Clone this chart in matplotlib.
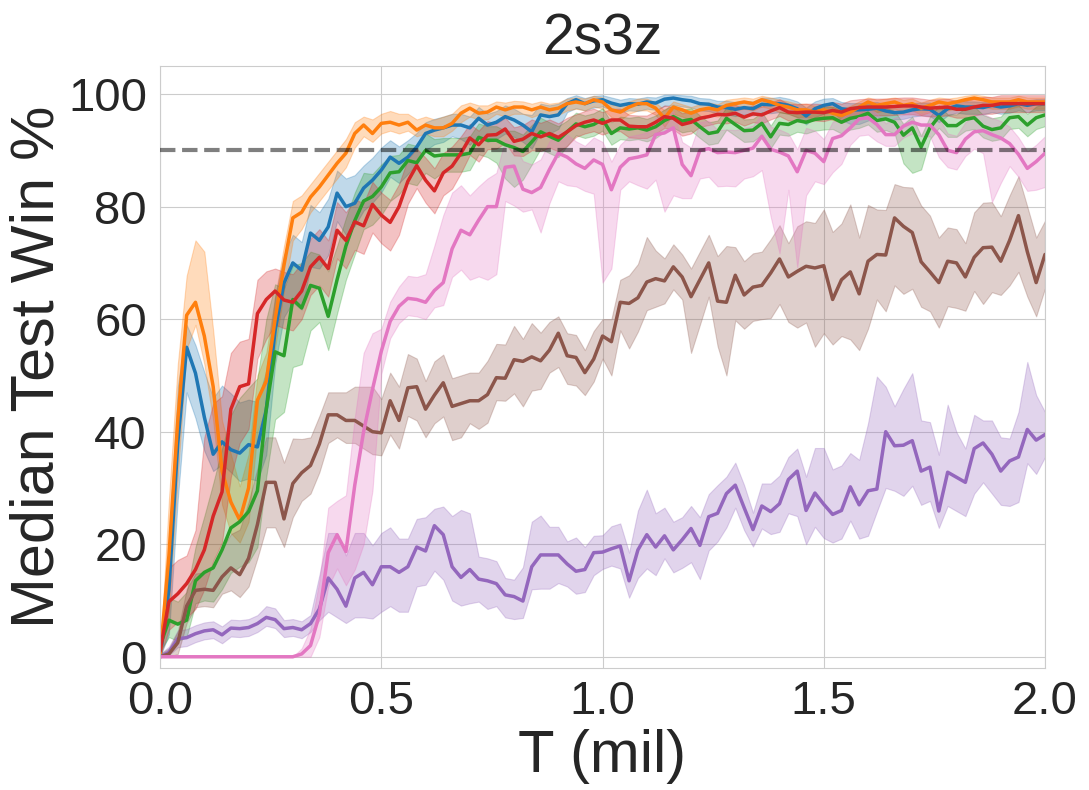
import numpy as np
import matplotlib
matplotlib.use('Agg')
import matplotlib.pyplot as plt
import seaborn as sns

# evaluation points, in million timesteps (one every 20k steps)
steps = np.arange(101) * 0.02

# median test win % per run
blue = [0, 12, 38, 55, 50.4, 42.6, 36, 38.2, 36.8, 36.2,
        37.7, 37.3, 43.9, 58, 66.4, 70, 68.7, 75.3, 74, 76.4,
        82.4, 80, 80.6, 83.3, 84.7, 86.5, 88.8, 87.7, 88.8, 90.6,
        93, 93.6, 94, 94.5, 94.5, 94, 95.7, 94.5, 95, 96,
        95.4, 94.5, 93.3, 96.3, 96, 96.3, 98.3, 99, 98.3, 98.8,
        99, 98.4, 98, 98.3, 98.2, 98.6, 98.4, 99.1, 99.3, 99,
        98.8, 98.3, 98.2, 97.7, 97.6, 97.3, 97.6, 97.4, 98.2, 98.1,
        98.3, 98, 97.4, 96.1, 97.4, 98, 98.3, 97.4, 97.2, 97.2,
        97.3, 97.5, 97, 96.7, 96.8, 97.2, 97.4, 97.3, 96.2, 97.4,
        97.9, 97.7, 97.7, 97.6, 98, 97.7, 97.9, 98.3, 98, 98.3, 98.3]
orange = [0, 18, 42, 60.7, 63, 57, 48, 33, 27.5, 24.3,
          30, 45.6, 49, 60, 69.6, 78, 79, 81.7, 83.5, 85.6,
          87.7, 89.5, 93, 94.5, 93, 94.8, 95, 94.5, 95, 93.6,
          94.5, 94, 94, 94.8, 96.6, 97.5, 96.6, 96.8, 97.7, 97.2,
          97.7, 97.7, 97.2, 97.7, 97.2, 97.5, 98.3, 98.6, 98.3, 99,
          98.6, 97.2, 96.8, 97.7, 98.3, 98.3, 97.5, 95.7, 97.7, 97.2,
          96.6, 97.2, 97.5, 97.2, 98, 98.3, 98.6, 98.3, 99, 98.6,
          98, 97.7, 97.2, 97.2, 96.8, 97.2, 96.6, 96.2, 96.8, 97.7,
          98.6, 98, 98.3, 98.6, 98, 98.3, 97.5, 98, 98.6, 98.3,
          98.6, 99, 99.3, 99, 98.6, 98.6, 98.6, 99, 98.6, 98.6, 98.6]
green = [2, 6.5, 5.8, 6.5, 13.5, 15, 15.8, 19, 22.9, 24,
         25.8, 29.5, 44, 54.2, 53.5, 63.5, 62, 66, 65.5, 60.5,
         67, 73, 77.5, 81, 81.8, 83.5, 86, 86.2, 88.2, 87.8,
         90, 89, 89.2, 89.2, 89.2, 89.5, 92.3, 91.8, 91.8, 91,
         90.5, 89.8, 91.5, 93.3, 92.5, 91.8, 93.3, 94.7, 94.2, 94.6,
         95.5, 93, 94, 93.8, 94, 93.6, 94.2, 95.3, 96, 95.2,
         95.5, 94.2, 93, 93.3, 95.7, 94.6, 93.5, 93.6, 94.8, 92.4,
         94.8, 94.6, 95.3, 95, 95.5, 95.7, 95.8, 95, 95.7, 96,
         96.6, 95.3, 95.6, 95, 92.7, 94, 90.6, 94, 96, 94.4,
         94.4, 95.5, 95.8, 94.3, 93.7, 94, 95.8, 96, 94.5, 95.8, 96.3]
red = [1, 9.8, 11.2, 13, 15.5, 19, 25, 29.3, 44, 48,
       48.5, 61, 63.5, 65, 63.4, 63, 65, 69.3, 71, 69,
       75.8, 74, 77.3, 76.6, 80.4, 78.5, 77.2, 80, 84.5, 87.3,
       84.7, 82.8, 86, 87.2, 89.5, 92.2, 91, 92.7, 92.8, 93.8,
       91.6, 92, 93, 92.4, 93, 92.3, 93.3, 94.4, 95, 95.4,
       94.8, 95.4, 95.4, 94.3, 94.2, 94.2, 95, 96, 95.7, 94.6,
       95, 95.7, 96, 96.4, 96.3, 96.6, 95.9, 96.5, 96.3, 97,
       97.6, 96.8, 96.7, 96.8, 96.8, 96.7, 97.1, 96.8, 97.4, 97.6,
       97.7, 97.7, 97.7, 97.8, 97.9, 97.9, 97.7, 97.5, 97.6, 97.7,
       97.3, 97.3, 97.7, 98, 98, 98.3, 98.3, 98.3, 98.3, 98.3, 98.3]
purple = [0, 0.8, 3.2, 3.4, 4.1, 4.6, 4.8, 3.9, 5.1, 5,
          5.2, 5.9, 7, 6.6, 5, 5.2, 4.8, 5.9, 8.5, 14,
          12, 9, 14, 15, 12.8, 16, 16, 15, 16, 19.5,
          18.8, 23.3, 21.7, 16, 14.1, 15.5, 13.8, 13.5, 13, 11,
          10.7, 9.9, 16, 18.1, 18.1, 18.1, 16.5, 15.2, 15.5, 18.5,
          18.6, 19.2, 19.7, 13.5, 19, 21.7, 19.5, 21.5, 19, 20.8,
          22.8, 19.8, 24.9, 25.5, 29, 30.5, 26.5, 22.6, 26.8, 25.8,
          27.2, 31.5, 33, 26, 29.1, 27.1, 25.3, 26, 30.2, 27,
          29.5, 29.8, 40, 37.5, 37.6, 38.4, 33, 33.7, 25.9, 32.8,
          31.9, 31, 37, 38, 36, 33, 34.8, 35.5, 40.4, 38.5, 39.5]
brown = [0, 0.5, 2.5, 9, 11.8, 12, 11.8, 14.2, 15.8, 14.6,
         17.5, 23.5, 31, 31, 24.5, 30.8, 32.7, 34, 37.8, 43,
         43, 42, 42, 41, 40, 39.8, 45.5, 42, 47.8, 48,
         44, 46.5, 48.7, 44.5, 45, 45.5, 45.5, 46.6, 49.6, 49.5,
         52.8, 52.5, 53.3, 52.6, 54.5, 57.5, 53.5, 53.2, 50.5, 52.9,
         57, 56, 63, 62.8, 63.8, 66.6, 67.2, 66.8, 69.3, 67.5,
         64, 67, 70, 63.2, 63, 67.8, 64.3, 65.7, 66, 68.2,
         70.7, 67.5, 68.5, 69.4, 69.1, 69.5, 63.5, 67, 68.4, 64.5,
         70.3, 71.5, 71.4, 78, 76.5, 75.4, 70.2, 68.4, 66.5, 70.3,
         70, 67.5, 71, 72.7, 72.8, 70.3, 74, 78.4, 72, 66.5, 71.5]
pink = [0, 0, 0, 0, 0, 0, 0, 0, 0, 0,
        0, 0, 0, 0, 0, 0, 0.5, 2, 7.5, 18.5,
        21.7, 18.7, 30.5, 40, 47.5, 54.3, 59.6, 62.3, 63.7, 63.5,
        63, 65.1, 66.5, 72.5, 75.8, 75, 77.6, 80, 80, 87,
        87.2, 83.1, 82.5, 83.4, 86.6, 89.5, 88.8, 87.6, 86.8, 88.3,
        87.5, 83, 87, 88.5, 88.8, 89.2, 92.8, 93.1, 94, 87.5,
        85.5, 90, 90.3, 89.6, 89.7, 89.6, 90, 90.4, 92.5, 90.2,
        89.7, 89, 86.2, 90, 89.5, 88, 92.1, 92.6, 94, 95.6,
        95.8, 94.6, 92.8, 92.8, 94.3, 95, 94.5, 94.5, 92.8, 90,
        89.6, 92, 93.3, 93.5, 92.8, 92.2, 91.2, 89.3, 86.8, 88, 89.5]

# how far the shaded band reaches below / above each median
blue_below = [0, 8, 10, 8, 8, 6, 3, 4, 4, 5,
              6, 6, 8, 6, 6, 7, 7, 6, 5, 5,
              5, 5, 4, 4, 4, 4, 3.5, 3.5, 3, 3,
              3, 2.5, 2.5, 2, 2.5, 3, 3, 3, 3, 3,
              3, 3, 3, 3, 3, 2.5, 1.5, 1.5, 1.2, 1.2,
              1.2, 1.2, 1.2, 1.2, 1.2, 1.2, 1.2, 1.2, 1.2, 1.2,
              1.2, 1.2, 1.2, 1.2, 1.2, 1.2, 1.2, 1.2, 1.5, 1.5,
              1.5, 1.5, 1.5, 1.5, 1.5, 1.5, 1.5, 2, 2.5, 2.5,
              2, 1.5, 1.5, 1.2, 1.2, 1.2, 1.2, 1.2, 1.2, 1.2,
              1.2, 1.2, 1.2, 1.2, 1.2, 1.2, 1.2, 1.2, 1.2, 1.2, 1.2]
blue_above = [0, 8, 10, 4, 5, 8, 10, 10, 10, 9,
              8, 8, 7, 6, 5, 5, 5, 5, 5, 5,
              4, 5, 5, 4, 4, 4, 3, 3, 3, 2.5,
              2, 2, 2, 2, 2, 2, 2, 2, 2, 2,
              2, 2, 3, 2, 2, 2, 1, 0.8, 1, 0.9,
              0.8, 1, 1, 1, 1, 0.9, 1, 0.8, 0.6, 0.8,
              0.9, 1, 1, 1.1, 1.2, 1.3, 1.2, 1.3, 1.2, 1.2,
              1.2, 1.2, 1.3, 1.5, 1.3, 1.2, 1, 1.2, 1.2, 1.2,
              1.2, 1.1, 1.2, 1.3, 1.3, 1.2, 1.1, 1.2, 1.3, 1.1,
              1, 1, 1, 1, 0.9, 1, 1, 0.8, 0.9, 0.8, 0.8]
orange_below = [0, 10, 10, 6, 4, 5, 6, 6, 5.5, 4,
                6, 5.6, 5, 5, 4.6, 4, 3, 2.7, 2.5, 2.6,
                2.7, 2.5, 2.5, 2, 1.5, 1.8, 1.5, 1.5, 1.5, 1.1,
                1.5, 1.5, 1.5, 1.3, 1.6, 1.5, 1.1, 1.3, 1.2, 1.2,
                1.2, 1.2, 1.3, 1.2, 1.2, 1.2, 1.2, 1.2, 1.2, 1.2,
                1.2, 1.3, 1.4, 1.2, 1.2, 1.2, 1.2, 1.5, 1.2, 1.2,
                1.2, 1.2, 1.2, 1.2, 1.2, 1.2, 1.2, 1.2, 1.2, 1.2,
                1.2, 1.2, 1.3, 1.2, 1.2, 1.2, 1.2, 1.3, 1.2, 1.2,
                1.2, 1.2, 1.2, 1.2, 1.2, 1.2, 1.2, 1.2, 1.2, 1.2,
                1.2, 1.2, 1.2, 1.2, 1.2, 1.2, 1.2, 1.2, 1.2, 1.2, 1.2]
orange_above = [0, 10, 10, 7, 11, 15, 10, 9, 8.5, 6,
                6, 4.4, 5, 4, 3.4, 3, 3, 2.3, 2.5, 2.4,
                2.3, 2.5, 2, 1.5, 2.5, 1.7, 2, 2, 1.5, 1.9,
                1.5, 1.5, 2, 1.7, 1.4, 1, 1.4, 1.2, 1, 1.3,
                1.1, 1, 1.1, 1, 1.1, 1, 0.9, 0.8, 0.9, 0.7,
                0.8, 1, 1.1, 1, 0.9, 0.9, 1, 1.4, 1, 1,
                1.1, 1, 1, 1, 1, 0.9, 0.8, 0.9, 0.7, 0.8,
                1, 1, 1.1, 1.1, 1.1, 1, 1.1, 1.2, 1.1, 1,
                0.8, 1, 0.9, 0.8, 1, 0.9, 1, 1, 0.8, 0.9,
                0.8, 0.7, 0.6, 0.7, 0.8, 0.8, 0.8, 0.7, 0.8, 0.8, 0.8]
green_below = [1, 3, 3, 3, 4, 5, 6, 7, 8, 8,
               9, 10, 12, 12, 10, 12, 10, 8, 6, 6,
               6, 6, 6, 5, 5, 5, 5, 4, 4, 4,
               4, 4, 3, 3, 3, 3, 3, 3, 4, 6,
               7, 5, 4, 3, 3, 3, 2.5, 2, 2, 2,
               2, 2, 2, 2, 2, 2, 2, 2, 2, 2,
               2, 2, 2, 2, 2, 2, 2, 2, 2, 2,
               2, 2, 2, 2, 2, 2, 2, 2, 2, 2,
               2, 2, 2, 2, 5, 8, 4, 2, 2, 2,
               2, 2, 2, 2, 2, 2, 2, 2, 2, 2, 2]
green_above = [1, 4, 4, 5, 6, 10, 15, 18, 20, 22,
               22, 20, 16, 12, 12, 6, 8, 6, 6, 8,
               6, 5, 5, 5, 4, 4, 3, 3, 3, 3,
               3, 3, 3, 3, 3, 3, 2.5, 2.5, 2.5, 2.5,
               3, 3, 3, 2.5, 2.5, 2.5, 2, 2, 2, 2,
               2, 2, 2, 2, 2, 2, 2, 2, 2, 2,
               2, 2, 2, 2, 2, 2, 2, 2, 2, 2,
               2, 2, 2, 2, 2, 2, 2, 2, 2, 2,
               2, 2, 2, 2, 2, 2, 2, 2, 2, 2,
               2, 2, 2, 2, 2, 2, 2, 2, 2, 2, 2]
red_below = [1, 5, 5, 6, 7, 7, 8, 9, 12, 10,
             8, 8, 7, 6, 5, 5, 5, 5, 5, 5,
             5, 5, 5, 5, 5, 5, 5, 5, 4, 4,
             4, 4, 4, 4, 3.5, 3, 3, 2.5, 2.5, 2.5,
             2.5, 3, 3, 2.5, 2.5, 2.5, 2.5, 2, 2, 2,
             2, 2, 2, 2, 2, 2, 2, 2, 2, 2,
             2, 1.5, 1.5, 1.5, 1.5, 1.5, 1.5, 1.5, 1.5, 1.5,
             1.5, 1.5, 1.5, 1.5, 1.5, 1.5, 1.5, 1.5, 1.5, 1.5,
             1.5, 1.5, 1.5, 1.5, 1.5, 1.5, 1.5, 1.5, 1.5, 1.5,
             1.5, 1.5, 1.5, 1.5, 1.5, 1.5, 1.5, 1.5, 1.5, 1.5, 1.5]
red_above = [1, 6, 6, 5, 7, 20, 20, 17, 10, 8,
             8, 6, 5, 4, 5, 5, 5, 5, 5, 5,
             5, 5, 4, 4, 4, 4, 4, 4, 4, 3,
             4, 4, 3.5, 3.5, 3, 2.5, 2.5, 2.5, 2, 2,
             2.5, 2.5, 2.5, 2.5, 2.5, 2.5, 2.5, 2, 2, 2,
             2, 2, 2, 2, 2, 2, 2, 2, 2, 2,
             2, 1.5, 1.5, 1.5, 1.5, 1.5, 1.5, 1.5, 1.5, 1.5,
             1.5, 1.5, 1.5, 1.5, 1.5, 1.5, 1.5, 1.5, 1.5, 1.5,
             1.5, 1.5, 1.5, 1.5, 1.5, 1.5, 1.5, 1.5, 1.5, 1.5,
             1.5, 1.5, 1.5, 1.5, 1.5, 1.5, 1.5, 1.5, 1.5, 1.5, 1.5]
purple_below = [0, 0.5, 1.5, 1.5, 1.5, 1.5, 1.5, 1.5, 1.5, 1.5,
                1.5, 1.5, 1.5, 1.5, 1.5, 1.5, 1.5, 1.5, 2, 6,
                5, 3, 7, 8, 6, 8, 7, 7, 8, 7,
                6, 8, 8, 6, 5, 6, 4, 5, 4, 4,
                4, 3, 4, 6, 6, 5, 4, 4, 4, 4,
                3, 3, 4, 3, 5, 6, 5, 4, 4, 5,
                6, 6, 6, 5, 6, 4, 4, 3, 4, 4,
                5, 6, 8, 6, 6, 6, 5, 5, 6, 6,
                8, 4, 10, 8, 9, 8, 6, 6, 3, 6,
                6, 6, 8, 7, 7, 6, 8, 8, 6, 6, 4]
purple_above = [0.5, 1, 1.5, 1.5, 1.5, 1.5, 1.5, 1.5, 1.5, 1.5,
                1.5, 1.5, 2, 2, 1.5, 1.5, 1.5, 1.5, 6, 8,
                10, 9, 8, 7, 7, 6, 7, 6, 5, 5,
                6, 3, 5, 9, 12, 10, 4, 4, 4, 3,
                3, 6, 8, 7, 5, 5, 4, 6, 4, 3,
                3, 4, 4, 5, 7, 8, 6, 5, 5, 4,
                4, 5, 4, 5, 3, 4, 4, 3, 4, 5,
                5, 4, 4, 6, 8, 10, 8, 8, 6, 8,
                12, 20, 8, 7, 10, 12, 9, 8, 10, 12,
                8, 6, 6, 4, 6, 6, 4, 8, 12, 8, 4]
brown_below = [0, 0.5, 2, 3, 3, 3, 3, 3, 4, 4,
               5, 6, 8, 8, 5, 6, 5, 5, 5, 5,
               4, 4, 4, 4, 4, 4, 6, 5, 5, 6,
               5, 5, 6, 6, 6, 4, 5, 5, 4, 4,
               6, 8, 6, 5, 4, 6, 5, 5, 4, 4,
               4, 6, 5, 8, 6, 5, 5, 4, 4, 4,
               10, 8, 6, 8, 13, 8, 6, 6, 6, 8,
               8, 8, 10, 10, 14, 12, 8, 10, 12, 10,
               12, 8, 10, 12, 12, 10, 8, 7, 8, 8,
               8, 6, 6, 10, 8, 6, 8, 10, 8, 6, 6]
brown_above = [0.5, 1, 2, 3, 3, 3, 4, 5, 6, 8,
               10, 10, 8, 8, 10, 8, 6, 5, 5, 4,
               4, 5, 6, 7, 8, 6, 5, 6, 6, 5,
               5, 6, 5, 5, 5, 5, 5, 6, 6, 6,
               6, 4, 6, 5, 5, 3, 4, 4, 4, 5,
               3, 4, 4, 5, 6, 8, 5, 4, 4, 4,
               5, 5, 5, 8, 10, 5, 6, 6, 6, 6,
               6, 6, 8, 8, 8, 10, 12, 10, 12, 10,
               10, 8, 8, 6, 7, 8, 10, 10, 8, 6,
               6, 6, 8, 8, 8, 8, 8, 7, 8, 8, 6]
pink_below = [0, 0, 0, 0, 0, 0, 0, 0, 0, 0,
              0, 0, 0, 0, 0, 0, 0.5, 2, 4, 6,
              6, 6, 15, 20, 18, 4, 3, 3, 3, 3,
              3, 3, 4, 5, 7, 8, 10, 13, 12, 6,
              7, 4, 3, 8, 6, 5, 5, 4, 4, 6,
              21, 14, 4, 4, 5, 6, 8, 14, 12, 6,
              4, 5, 5, 6, 6, 6, 5, 5, 6, 12,
              18, 6, 17, 8, 5, 4, 6, 5, 3, 3,
              3, 3, 2, 2, 2, 2, 2, 2, 4, 3,
              3, 3, 3, 4, 12, 8, 4, 4, 4, 5, 6]
pink_above = [0, 0, 0, 0, 0, 0, 0, 0, 0, 0,
              0, 0, 0, 0, 0, 0, 1, 3, 6, 8,
              6, 10, 12, 14, 10, 4, 3.5, 3.5, 4, 4,
              5, 8, 12, 10, 8, 7, 6, 5, 6, 5,
              4, 5, 5, 5, 5, 4, 4, 4, 4, 4,
              4, 5, 4, 4, 4, 4, 3, 3, 3, 4,
              5, 5, 5, 4, 4, 4, 4, 4, 4, 4,
              4, 4, 4, 4, 4, 4, 3, 3, 3, 2,
              2, 2, 2, 3, 2, 2, 2, 2.5, 3, 3,
              3, 3, 3, 3, 3, 3, 3, 3, 3, 3, 3]

runs = [
    (blue, blue_below, blue_above, 'tab:blue'),
    (orange, orange_below, orange_above, 'tab:orange'),
    (green, green_below, green_above, 'tab:green'),
    (red, red_below, red_above, 'tab:red'),
    (purple, purple_below, purple_above, 'tab:purple'),
    (brown, brown_below, brown_above, 'tab:brown'),
    (pink, pink_below, pink_above, 'tab:pink'),
]


def main():
    sns.set_style('whitegrid')
    plt.rcParams['font.family'] = ['Liberation Sans', 'DejaVu Sans']

    fig = plt.figure(figsize=(10.89, 7.9), dpi=100)
    ax = fig.add_axes([0.147, 0.1544, 0.8126, 0.7621])

    for med, below, above, color in runs:
        med = np.array(med, dtype=float)
        lo = np.clip(med - np.array(below), 0, 100)
        hi = np.clip(med + np.array(above), 0, 100)
        ax.fill_between(steps, lo, hi, color=color, alpha=0.28, linewidth=0.8)
        ax.plot(steps, med, color=color, lw=2.5)

    # target line
    ax.axhline(90, color='black', alpha=0.5, ls='--', lw=3, zorder=5)

    ax.set_xlim(0, 2.0)
    ax.set_ylim(-2, 105)
    ax.set_xticks([0.0, 0.5, 1.0, 1.5, 2.0])
    ax.set_yticks([0, 20, 40, 60, 80, 100])
    ax.tick_params(axis='both', labelsize=34)
    ax.tick_params(axis='y', pad=6)
    ax.tick_params(axis='x', pad=5)

    ax.set_title('2s3z', fontsize=41, pad=8)
    ax.set_xlabel('T (mil)', fontsize=43, labelpad=4)
    ax.set_ylabel('Median Test Win %', fontsize=44, labelpad=1)

    fig.savefig('out.png', dpi=100)


if __name__ == '__main__':
    main()
